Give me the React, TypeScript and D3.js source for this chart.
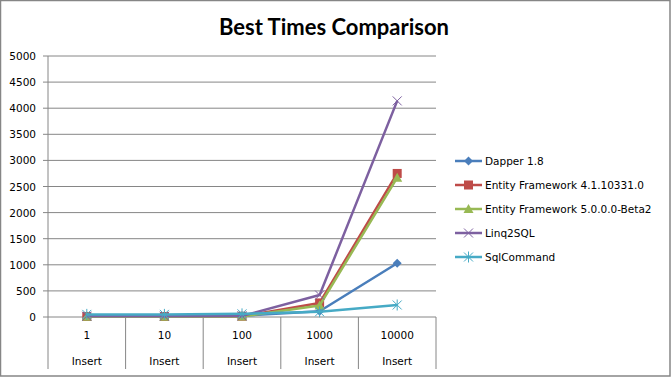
import React from "react";
import * as d3 from "d3";

const categories = ["1", "10", "100", "1000", "10000"];
const groupLabel = "Insert";
const yTicks = [0, 500, 1000, 1500, 2000, 2500, 3000, 3500, 4000, 4500, 5000];
const seriesNames = [
  "Dapper 1.8",
  "Entity Framework 4.1.10331.0",
  "Entity Framework 5.0.0.0-Beta2",
  "Linq2SQL",
  "SqlCommand",
];
const dapper = [20, 20, 25, 110, 1030];
const ef4 = [10, 10, 15, 270, 2750];
const ef5 = [5, 5, 10, 220, 2670];
const linq = [15, 15, 20, 420, 4140];
const sqlCmd = [50, 50, 60, 100, 230];
const seriesValues = [dapper, ef4, ef5, linq, sqlCmd];
const colors = ["#4A7EBB", "#BE4B48", "#98B954", "#7D60A0", "#46AAC5"];
const markers = ["diamond", "square", "triangle", "x", "asterisk"];

const W = 671, H = 377;
const plot = { left: 48, right: 436, top: 56, bottom: 317 };

function Marker({ type, x, y, color }: { type: string; x: number; y: number; color: string }) {
  if (type === "diamond") {
    const s = 4.5;
    return <path d={`M${x},${y - s}L${x + s},${y}L${x},${y + s}L${x - s},${y}Z`} fill={color} />;
  }
  if (type === "square") {
    return <rect x={x - 4.5} y={y - 4.5} width={9} height={9} fill={color} />;
  }
  if (type === "triangle") {
    return <path d={`M${x},${y - 5}L${x + 5},${y + 4}L${x - 5},${y + 4}Z`} fill={color} />;
  }
  if (type === "x") {
    const s = 4.5;
    return (
      <path d={`M${x - s},${y - s}L${x + s},${y + s}M${x - s},${y + s}L${x + s},${y - s}`} stroke={color} strokeWidth={1} />
    );
  }
  const s = 4.5;
  return (
    <path
      d={`M${x - s},${y - s}L${x + s},${y + s}M${x - s},${y + s}L${x + s},${y - s}M${x},${y - 5.5}L${x},${y + 5.5}`}
      stroke={color}
      strokeWidth={1}
    />
  );
}

export default function App() {
  const x = d3.scaleBand<string>().domain(categories).range([plot.left, plot.right]);
  const y = d3.scaleLinear().domain([0, 5000]).range([plot.bottom, plot.top]);
  const line = d3
    .line<number>()
    .x((_, i) => (x(categories[i]) as number) + x.bandwidth() / 2)
    .y((v) => y(v));
  const tickFont = "DejaVu Sans, Verdana, sans-serif";
  const fs = 10.5;
  const bounds = [...categories.map((c) => x(c) as number), plot.right];
  return (
    <svg width={W} height={H} style={{ position: "absolute", left: 0, top: 0, background: "#fff" }}>
      <rect x={0.5} y={0.5} width={W - 1.5} height={H - 1.5} fill="#fff" stroke="#868686" strokeWidth={1.5} />
      <text x={334} y={35} textAnchor="middle" fontFamily="Lato, sans-serif" fontWeight="bold" fontSize={22} fill="#000">
        Best Times Comparison
      </text>
      {yTicks.map((t) => (
        <g key={t}>
          <line x1={plot.left - 5} x2={plot.right} y1={y(t)} y2={y(t)} stroke="#868686" strokeWidth={1} />
          <text x={36} y={y(t) + 4} textAnchor="end" fontFamily={tickFont} fontSize={fs} fill="#000">
            {t}
          </text>
        </g>
      ))}
      <line x1={plot.left} x2={plot.left} y1={plot.top} y2={plot.bottom} stroke="#868686" />
      {bounds.map((b, i) => (
        <line key={i} x1={b} x2={b} y1={plot.bottom} y2={369} stroke="#868686" />
      ))}
      {categories.map((c) => (
        <g key={c}>
          <text x={(x(c) as number) + x.bandwidth() / 2} y={339} textAnchor="middle" fontFamily={tickFont} fontSize={fs} fill="#000">
            {c}
          </text>
          <text x={(x(c) as number) + x.bandwidth() / 2} y={365} textAnchor="middle" fontFamily={tickFont} fontSize={fs} fill="#000">
            {groupLabel}
          </text>
        </g>
      ))}
      {seriesValues.map((vals, si) => (
        <g key={si}>
          <path d={line(vals) || ""} fill="none" stroke={colors[si]} strokeWidth={2.5} strokeLinejoin="round" />
          {vals.map((v, i) => (
            <Marker key={i} type={markers[si]} x={(x(categories[i]) as number) + x.bandwidth() / 2} y={y(v)} color={colors[si]} />
          ))}
        </g>
      ))}
      {seriesNames.map((n, i) => {
        const ly = 161 + i * 24;
        return (
          <g key={n}>
            <line x1={455} x2={482} y1={ly} y2={ly} stroke={colors[i]} strokeWidth={2.5} />
            <Marker type={markers[i]} x={468.5} y={ly} color={colors[i]} />
            <text x={485} y={ly + 4} fontFamily={tickFont} fontSize={fs} fill="#000">
              {n}
            </text>
          </g>
        );
      })}
    </svg>
  );
}
